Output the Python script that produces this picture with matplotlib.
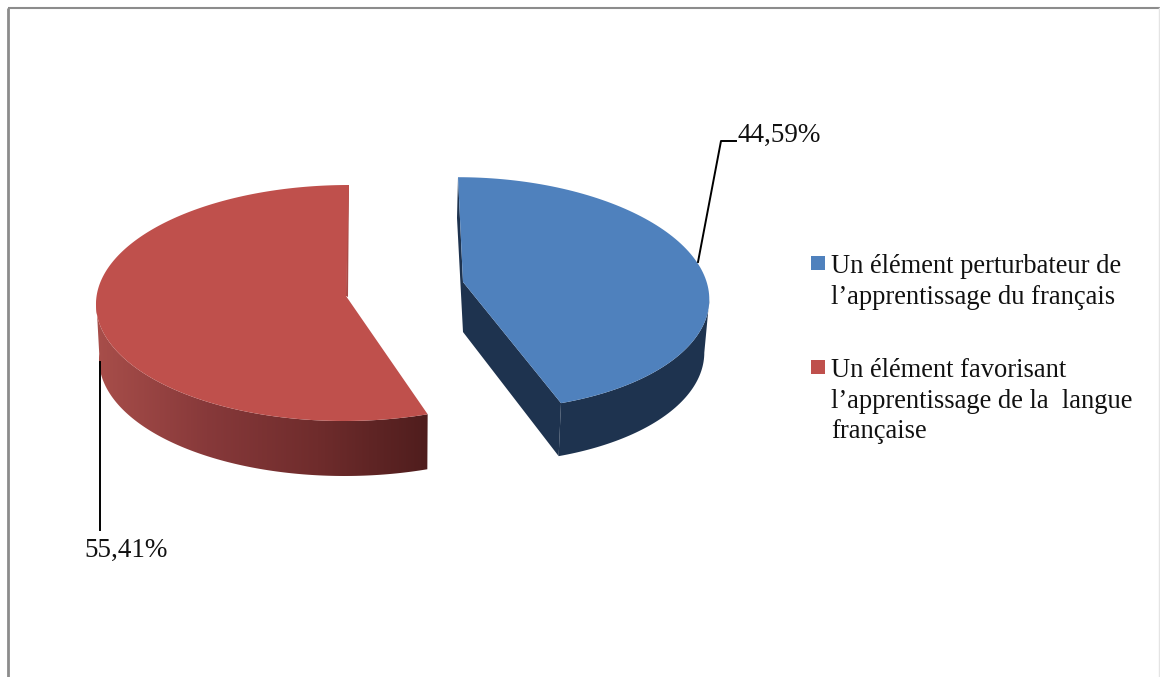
import numpy as np
import matplotlib
matplotlib.use('Agg')
import matplotlib.pyplot as plt
from matplotlib.patches import Polygon, Rectangle
from matplotlib.colors import LinearSegmentedColormap

shares = [44.59, 55.41]
share_labels = ['44,59%', '55,41%']
legend_labels = ["Un élément perturbateur de\nl’apprentissage du français",
                 "Un élément favorisant\nl’apprentissage de la  langue\nfrançaise"]
top_colors = ['#4f81bd', '#bf504c']
side_blue = '#1e334f'
side_red = ['#a84e4a', '#87393a', '#6f2c2c', '#4f1d1d']

plt.rcParams['font.family'] = ['Liberation Serif', 'DejaVu Serif']

fig = plt.figure(figsize=(11.6, 6.77), dpi=100)
ax = fig.add_axes([0, 0, 1, 1])
ax.set_xlim(0, 1160)
ax.set_ylim(677, 0)
ax.axis('off')


def arc(cx, cy, a, b, shear, t):
    # t in degrees, clockwise from the top of the pie
    r = np.radians(t)
    return np.column_stack([cx + a * np.sin(r) - shear * np.cos(r), cy - b * np.cos(r)])


# frame
ax.plot([8, 8], [677, 8], color='#8c8c8c', lw=2, solid_capstyle='butt')
ax.plot([8, 1160], [8, 8], color='#8c8c8c', lw=1.5, solid_capstyle='butt')
ax.plot([1159, 1159], [8, 677], color='#e4e4e4', lw=1)

split = shares[0] / 100 * 360

# blue slice
t_blue = np.linspace(0, split, 120)
t_blue_side = np.linspace(93, split, 60)
top = arc(470, 293.5, 239, 116.3, 12, t_blue)
apex = [463, 282]
ax.add_patch(Polygon([top[0], (457, 218), (463, 332), apex], color=side_blue, lw=0))
inner_low = arc(469, 346.5, 235, 116.3, 12, np.array([split]))[0]
ax.add_patch(Polygon([apex, top[-1], inner_low, (463, 332)], color=side_blue, lw=0))
up = arc(470, 293.5, 239, 116.3, 12, t_blue_side)
low = arc(469, 346.5, 235, 116.3, 12, t_blue_side)
ax.add_patch(Polygon(np.vstack([up, low[::-1]]), color=side_blue, lw=0))
ax.add_patch(Polygon(np.vstack([[apex], top]), color=top_colors[0], lw=0))

# red slice
t_red = np.linspace(split, 360, 200)
t_red_side = np.linspace(split, 272, 120)
top = arc(346.5, 303, 250.5, 118, -2.5, t_red)
ax.add_patch(Polygon([(349, 185), (348, 297), (346, 296), (347, 185)], color='#a84a46', lw=0))
up = arc(346.5, 303, 250.5, 118, -2.5, t_red_side)
low = arc(347, 358, 248, 118, -2.5, t_red_side)
side = Polygon(np.vstack([up, low[::-1]]), facecolor='none', edgecolor='none')
ax.add_patch(side)
grad = ax.imshow(np.linspace(1, 0, 256).reshape(1, -1),
                 cmap=LinearSegmentedColormap.from_list('side', side_red[::-1]),
                 extent=[96, 429, 480, 300], aspect='auto', zorder=1.5)
grad.set_clip_path(side)
ax.set_xlim(0, 1160)
ax.set_ylim(677, 0)
ax.add_patch(Polygon(np.vstack([[(346, 296)], top]), color=top_colors[1], lw=0, zorder=2))

# leader lines
ax.plot([698, 721, 736], [262, 141, 141], color='black', lw=1.4, zorder=3)
ax.plot([100, 100], [362, 530], color='black', lw=1.4, zorder=3)
ax.text(738, 142, share_labels[0], fontsize=19.5, color='#111111', va='baseline')
ax.text(84, 557, share_labels[1], fontsize=19.5, color='#111111', va='baseline')

# legend
legend_y = [273, 377]
for color, label, y0 in zip(top_colors, legend_labels, legend_y):
    ax.add_patch(Rectangle((811, y0 - 17), 14, 14, color=color, lw=0))
    for i, line in enumerate(label.split('\n')):
        ax.text(831, y0 + i * 30.5, line, fontsize=19.1, color='#111111', va='baseline')

fig.savefig('out.png', dpi=100)
